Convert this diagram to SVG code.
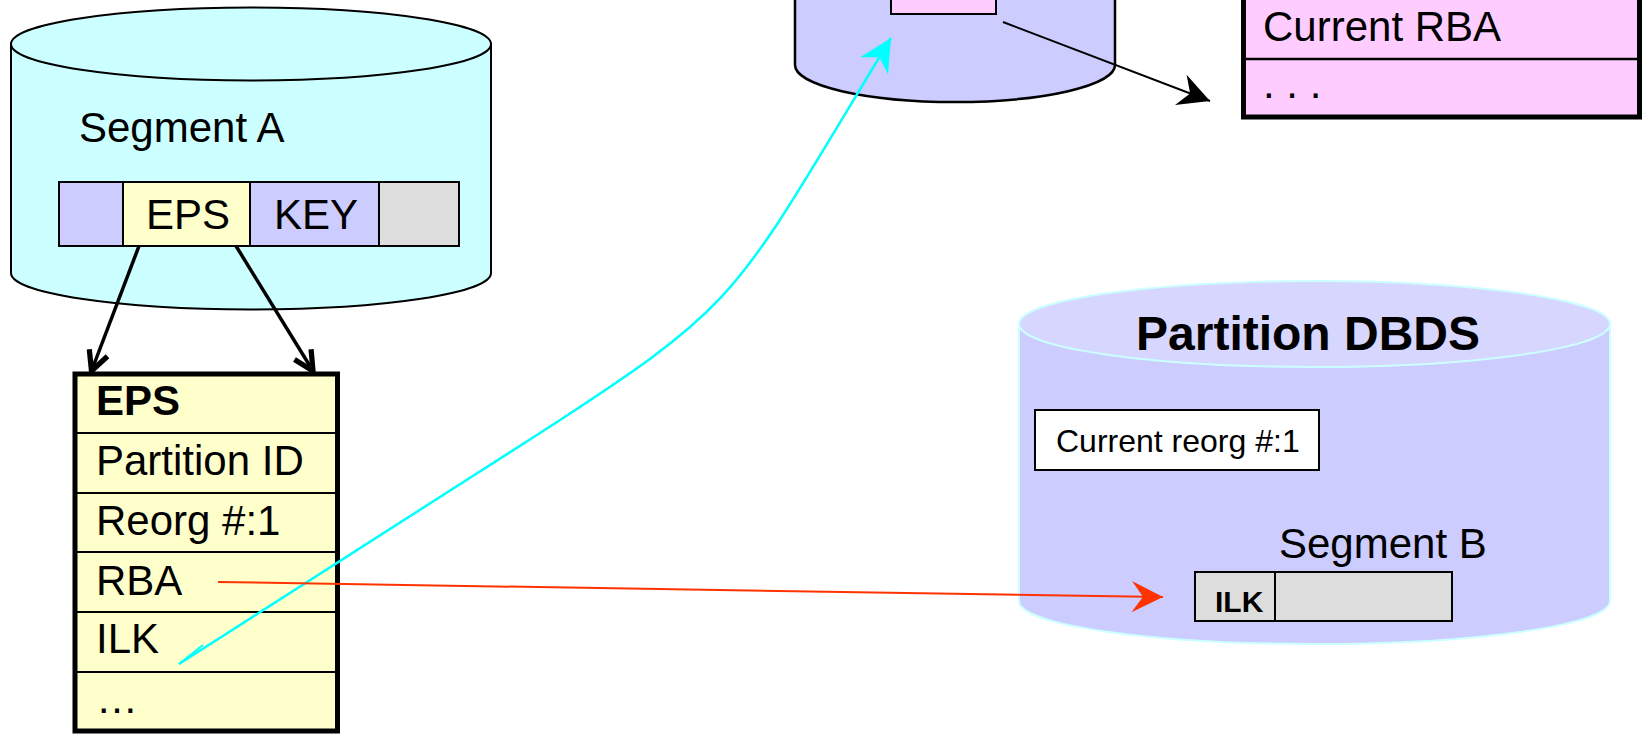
<svg xmlns="http://www.w3.org/2000/svg" width="1642" height="734" viewBox="0 0 1642 734">
  <style>
    text { font-family: "Liberation Sans", Arial, Helvetica, sans-serif; fill: #000; }
    .lbl { font-size: 42px; }
    .bold { font-weight: bold; }
    .cell { stroke: #000; stroke-width: 2; }
    .div { stroke: #000; stroke-width: 2; }
    .lav { fill: #ccccff; }
    .yel { fill: #ffffcc; }
    .gry { fill: #dddddd; }
    .pnk { fill: #ffccff; }
  </style>
  <defs>
    <!-- open V head for the thick black pointers -->
    <marker id="vHead" markerUnits="userSpaceOnUse" orient="auto" refX="0" refY="0" markerWidth="30" markerHeight="30" viewBox="-16 -10 20 20" overflow="visible">
      <path d="M-13,-6.5 L0,0 L-13,6.5" fill="none" stroke="#000" stroke-width="3.5" stroke-linejoin="miter"/>
    </marker>
    <!-- filled notched heads -->
    <marker id="headBlack" markerUnits="userSpaceOnUse" orient="auto" refX="0" refY="0" markerWidth="40" markerHeight="40" viewBox="-30 -15 32 30" overflow="visible">
      <path d="M0,0 L-25,-13 L-17,0 L-25,13 Z" fill="#000"/>
    </marker>
    <marker id="headCyan" markerUnits="userSpaceOnUse" orient="auto" refX="0" refY="0" markerWidth="40" markerHeight="40" viewBox="-30 -15 32 30" overflow="visible">
      <path d="M0,0 L-26,-13 L-18,0 L-26,13 Z" fill="#00ffff"/>
    </marker>
    <marker id="headRed" markerUnits="userSpaceOnUse" orient="auto" refX="0" refY="0" markerWidth="40" markerHeight="40" viewBox="-30 -15 32 30" overflow="visible">
      <path d="M0,0 L-25,-12.5 L-16,0 L-25,12.5 Z" fill="#ff3300"/>
    </marker>
  </defs>

  <!-- Segment A database -->
  <g id="segmentA">
    <path d="M11,44 L11,273 A240,36.5 0 0 0 491,273 L491,44 Z" fill="#ccffff" stroke="#000" stroke-width="2"/>
    <ellipse cx="251" cy="44" rx="240" ry="36.5" fill="#ccffff" stroke="#000" stroke-width="2"/>
    <text class="lbl" x="79" y="142">Segment A</text>
    <rect class="cell lav" x="59" y="182" width="64" height="64"/>
    <rect class="cell yel" x="123" y="182" width="127" height="64"/>
    <rect class="cell lav" x="250" y="182" width="129" height="64"/>
    <rect class="cell gry" x="379" y="182" width="80" height="64"/>
    <text class="lbl" x="146" y="229">EPS</text>
    <text class="lbl" x="274" y="229">KEY</text>
  </g>

  <!-- EPS layout -->
  <g id="epsTable">
    <rect x="75" y="374" width="262.5" height="357" fill="#ffffcc" stroke="#000" stroke-width="5"/>
    <line class="div" x1="75" y1="433" x2="337.5" y2="433"/>
    <line class="div" x1="75" y1="493" x2="337.5" y2="493"/>
    <line class="div" x1="75" y1="552" x2="337.5" y2="552"/>
    <line class="div" x1="75" y1="612" x2="337.5" y2="612"/>
    <line class="div" x1="75" y1="672" x2="337.5" y2="672"/>
    <text class="lbl bold" x="96" y="415">EPS</text>
    <text class="lbl" x="96" y="475">Partition ID</text>
    <text class="lbl" x="96" y="535">Reorg #:1</text>
    <text class="lbl" x="96" y="595">RBA</text>
    <text class="lbl" x="96" y="653">ILK</text>
    <text class="lbl" x="96" y="713">…</text>
  </g>

  <!-- indirect list data set (lower part visible) -->
  <g id="ilds">
    <path d="M795,-10 L795,65 A160,37 0 0 0 1115,65 L1115,-10 Z" fill="#ccccff" stroke="#000" stroke-width="2.5"/>
    <rect x="891" y="-10" width="105" height="24" fill="#ffccff" stroke="#000" stroke-width="2"/>
  </g>

  <!-- ILE entry -->
  <g id="ileTable">
    <rect x="1243.5" y="-10" width="396" height="127" fill="#ffccff" stroke="#000" stroke-width="5"/>
    <line x1="1243.5" y1="59" x2="1639.5" y2="59" stroke="#000" stroke-width="2.5"/>
    <text class="lbl" x="1263" y="41">Current RBA</text>
    <text class="lbl" x="1263" y="98">. . .</text>
  </g>

  <!-- Partition DBDS -->
  <g id="partitionDbds">
    <path d="M1019,324 L1019,601 A295.5,43 0 0 0 1610,601 L1610,324 Z" fill="#ccccff" stroke="#ccffff" stroke-width="2"/>
    <ellipse cx="1314.5" cy="324" rx="295.5" ry="43" fill="#d6d6ff" stroke="#ccffff" stroke-width="2"/>
    <text class="bold" x="1136" y="350" font-size="48">Partition DBDS</text>
    <rect x="1035" y="410" width="284" height="60" fill="#fff" stroke="#000" stroke-width="2"/>
    <text x="1056" y="452" font-size="32">Current reorg #:1</text>
    <text class="lbl" x="1279" y="558">Segment B</text>
    <rect class="cell gry" x="1195" y="572" width="80" height="49"/>
    <rect class="cell gry" x="1275" y="572" width="177" height="49"/>
    <text class="bold" x="1215" y="612" font-size="30">ILK</text>
  </g>

  <!-- connectors -->
  <g id="connectors" fill="none">
    <line x1="139" y1="246" x2="91.5" y2="371" stroke="#000" stroke-width="3.5" marker-end="url(#vHead)"/>
    <line x1="236" y1="246" x2="313" y2="371" stroke="#000" stroke-width="3.5" marker-end="url(#vHead)"/>
    <line x1="1003" y1="22" x2="1210" y2="101" stroke="#000" stroke-width="2" marker-end="url(#headBlack)"/>
    <path d="M179,664 L540,433 C745,300 731,302 891,38" stroke="#00ffff" stroke-width="2.5" marker-end="url(#headCyan)"/>
    <path d="M179,664 L203,645" stroke="#00ffff" stroke-width="2"/>
    <line x1="218" y1="582" x2="1163" y2="597" stroke="#ff3300" stroke-width="2" marker-end="url(#headRed)"/>
  </g>
</svg>
